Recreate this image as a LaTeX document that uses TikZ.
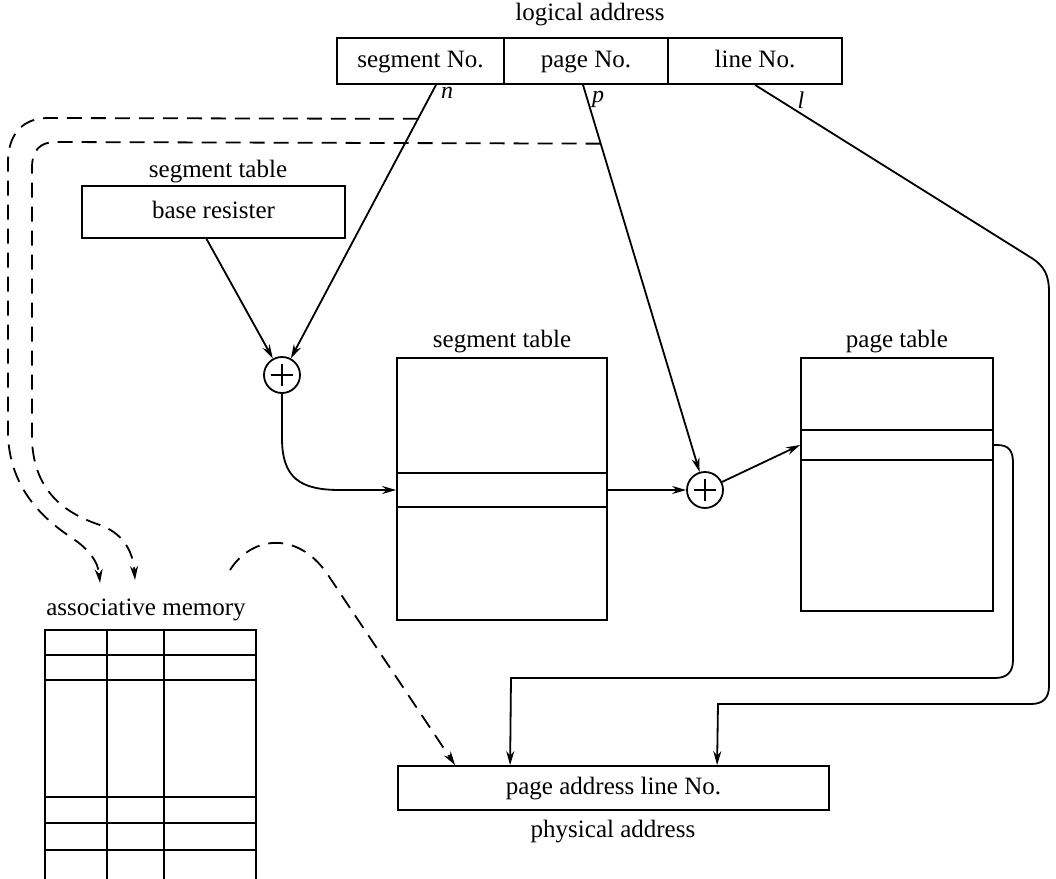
\documentclass[tikz,border=0pt]{standalone}
\usepackage{fontspec}
\setmainfont{Liberation Serif}
\usetikzlibrary{arrows.meta,calc}
\begin{document}
\begin{tikzpicture}[x=0.5pt,y=-0.5pt,
  line width=0.9pt,
  font=\fontsize{12.5}{15}\selectfont,
  >={Stealth[length=7pt,width=4pt]},
  box/.style={draw,inner sep=0pt,text height=8.5pt,text depth=2.5pt},
  field/.style={box,minimum height=23pt},
  adder/.style={draw,circle,inner sep=0pt,minimum size=18pt},
  caption/.style={inner sep=1pt},
  var/.style={inner sep=0pt,font=\fontsize{12}{14}\selectfont\itshape},
  link/.style={->},
  assoc/.style={->,dash pattern=on 7.5pt off 4.5pt}]

\fill[white] (0,0) rectangle (1056,879);
\useasboundingbox (0,0) rectangle (1056,879);

% logical address fields
\node[caption] (logl) at (590,15) {logical address};
\node[field,minimum width=83.5pt] (segno) at (420.5,61) {segment No.};
\node[field,minimum width=82pt] (pageno) at (586,61) {page No.};
\node[field,minimum width=87pt] (lineno) at (755,61) {line No.};
\coordinate (nS) at ($(segno.south)+(15.5,0)$);
\coordinate (pS) at ($(pageno.south)+(-3,0)$);
\coordinate (lS) at (lineno.south);
\node[var] (nlab) at (447,93) {n};
\node[var] (plab) at (598,99) {p};
\node[var] (llab) at (801,100) {l};

% base register of the segment table
\node[caption] (brl) at (218,172) {segment table};
\node[box,minimum width=131.5pt,minimum height=26pt] (br) at (213.5,212) {base resister};

% adders
\node[adder] (a1) at (282,375) {};
\node[adder] (a2) at (705,490) {};
\foreach \a in {a1,a2}
  \draw ($(\a)+(-11,0)$) -- ($(\a)+(11,0)$) ($(\a)+(0,-11)$) -- ($(\a)+(0,11)$);

% segment table
\node[caption] (stabl) at (502,342) {segment table};
\node[box,minimum width=105pt,minimum height=131pt] (stab) at (502,489) {};
\node[box,minimum width=105pt,minimum height=17pt] (srow) at (502,490) {};

% page table
\node[caption] (ptabl) at (897,342) {page table};
\node[box,minimum width=96pt,minimum height=126.5pt] (ptab) at (897,484.5) {};
\node[box,minimum width=96pt,minimum height=15pt] (prow) at (897,445) {};

% physical address
\node[box,minimum width=215.5pt,minimum height=22pt] (pa) at (613.5,788) {page address line No.};
\node[caption] (pal) at (613,832) {physical address};
\coordinate (pin0) at ($(pa.north west)+(58,0)$);
\coordinate (pin1) at ($(pa.north west)+(113,0)$);
\coordinate (pin2) at ($(pa.north west)+(320,0)$);

% associative memory
\node[caption] (aml) at (146,610) {associative memory};
\draw (45,879) -- (45,630) -- (256,630) -- (256,879);
\foreach \y in {655,680,797,823,850} \draw (45,\y) -- (256,\y);
\foreach \x in {107,164} \draw (\x,630) -- (\x,879);

% address paths
\draw[link] ($(br.south)+(-7,0)$) -- (a1);
\draw[link] (nS) -- (a1);
\draw[link] (pS) -- (a2);
\draw[link] (a1.south) -- (282,438) .. controls (282,478) and (300,490) .. (340,490) -- (srow.west);
\draw[link] (srow.east) -- (a2);
\draw[link] (a2) -- (prow.west);
\draw[link] (prow.east) -- (997,445) .. controls (1009,445) and (1013,451) .. (1013,463)
  -- (1013,660) .. controls (1013,672) and (1007,678) .. (995,678) -- (511,678) -- (pin1);
\draw[link] (lS) -- (1030,257) .. controls (1045,266) and (1049,276) .. (1049,292)
  -- (1049,686) .. controls (1049,698) and (1043,704) .. (1031,704) -- (718,704) -- (pin2);

% associative memory lookups
\coordinate (nd) at ($(nS)!0.117!(a1)$);
\coordinate (pd) at ($(pS)!0.145!(a2)$);
\coordinate (am1) at (100,583);
\coordinate (am2) at (135,580);
\coordinate (amout) at (230,570);
\draw[assoc] (nd) -- (48,118) .. controls (22,118) and (8,135) .. (8,162) -- (8,435)
  .. controls (10,490) and (45,520) .. (72,538) .. controls (90,550) and (98,562) .. (am1);
\draw[assoc] (pd) -- (56,142) .. controls (40,142) and (32,150) .. (32,168) -- (32,440)
  .. controls (34,495) and (70,515) .. (100,525) .. controls (122,533) and (133,550) .. (am2);
\draw[assoc] (amout) .. controls (252,535) and (300,530) .. (330,578) -- (pin0);
\end{tikzpicture}
\end{document}
